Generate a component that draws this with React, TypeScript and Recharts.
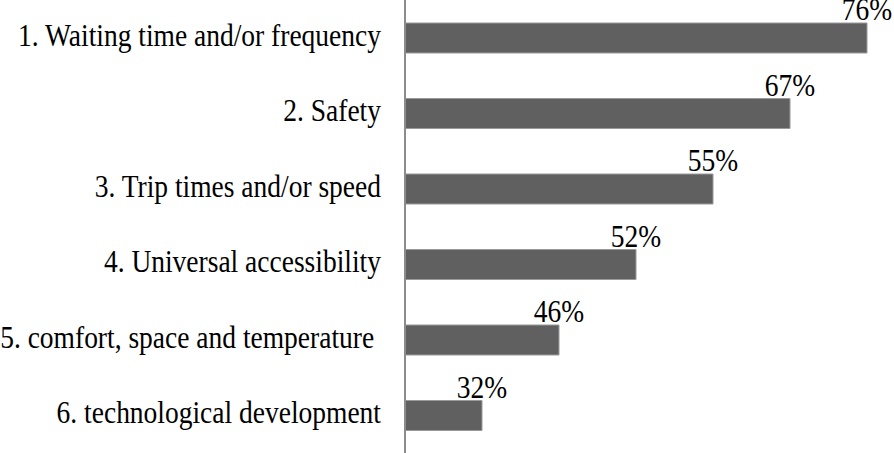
import React from "react";
import { BarChart, Bar, XAxis, YAxis, LabelList } from "recharts";

const categories = [
  "1. Waiting time and/or frequency",
  "2. Safety",
  "3. Trip times and/or speed",
  "4. Universal accessibility",
  "5. comfort, space and temperature\u00A0",
  "6. technological development",
];
// bar length follows the ranking, the label shows the share
const rankScores = [6, 5, 4, 3, 2, 1];
const percentLabels = ["76%", "67%", "55%", "52%", "46%", "32%"];

const data = categories.map((name, i) => ({
  name,
  score: rankScores[i],
  pct: percentLabels[i],
}));

// the source picture is stretched a bit vertically
const STRETCH = 1.13;
const textStyle: React.CSSProperties = {
  fontFamily: "Liberation Serif",
  fontSize: 27.5,
  whiteSpace: "pre",
};

const CategoryTick = (props: any) => {
  const { x, y, payload } = props;
  return (
    <text
      transform={`translate(${x},${Number(y) + 8}) scale(1,${STRETCH})`}
      textAnchor="end"
      fill="#000"
      style={textStyle}
    >
      {payload.value}
    </text>
  );
};

const PctLabel = (props: any) => {
  const { x, y, width, value } = props;
  return (
    <text
      transform={`translate(${Number(x) + Number(width)},${Number(y) - 3}) scale(1,${STRETCH})`}
      textAnchor="middle"
      fill="#000"
      style={textStyle}
    >
      {value}
    </text>
  );
};

const App = () => {
  return (
    <div style={{ position: "absolute", left: 0, top: 0 }}>
      <BarChart
        width={894}
        height={453}
        data={data}
        layout="vertical"
        margin={{ top: 0, right: 27, bottom: 0, left: 0 }}
      >
        <XAxis type="number" domain={[0, 6]} hide />
        <YAxis
          type="category"
          dataKey="name"
          width={405}
          tickLine={false}
          tickSize={0}
          tickMargin={24}
          axisLine={{ stroke: "#8c8c8c", strokeWidth: 2 }}
          tick={<CategoryTick />}
          interval={0}
        />
        <Bar
          dataKey="score"
          fill="#606060"
          stroke="#9a9a9a"
          strokeWidth={1}
          barSize={30}
          isAnimationActive={false}
        >
          <LabelList dataKey="pct" content={<PctLabel />} />
        </Bar>
      </BarChart>
    </div>
  );
};

export default App;
